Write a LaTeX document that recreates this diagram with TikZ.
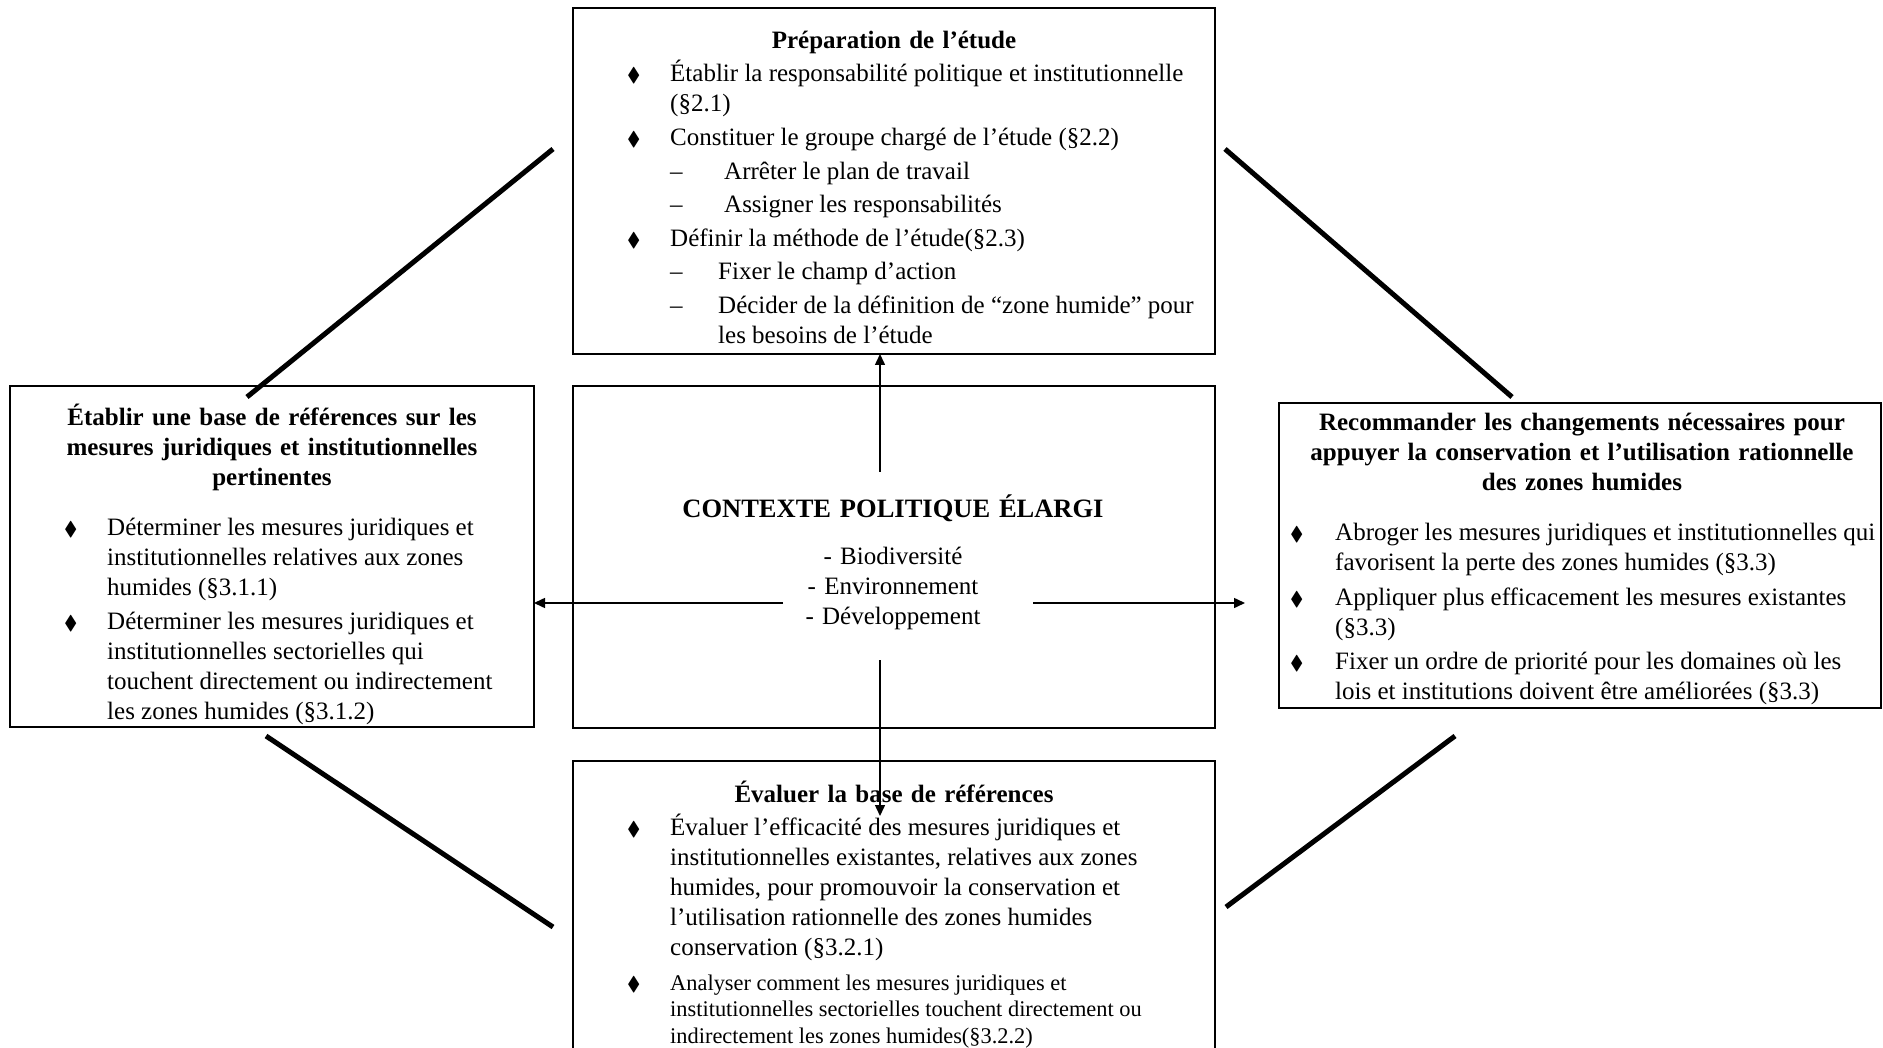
\documentclass[tikz,border=0pt]{standalone}
\usepackage{amssymb}
\usepackage{fontspec}
\setmainfont{Liberation Serif}
\usetikzlibrary{arrows.meta}

\newcommand{\puce}{{\fontsize{20}{20}\selectfont$\blacklozenge$}}
\newcommand{\tiret}[1]{\makebox[#1][l]{–}}
\newcommand{\corps}{\fontsize{25}{30}\selectfont}
\newcommand{\petit}{\fontsize{22.4}{26.5}\selectfont}

\tikzset{
	cadre/.style={draw, line width=2pt, inner sep=0pt, outer sep=0pt, anchor=north west},
	titre/.style={anchor=base, inner sep=0pt, align=center, font=\corps\bfseries},
	liste/.style={anchor=base west, inner sep=0pt, font=\corps},
	fleche/.style={line width=1.5pt, -{Triangle[length=11pt,width=10pt]}},
	liaison/.style={line width=5pt}
}

\begin{document}
\begin{tikzpicture}[x=1pt, y=-1pt]
			\clip (0,0) rectangle (1883,1048);

			\node[cadre, minimum width=642, minimum height=346] (prep) at (573,8) {};
			\node[cadre, minimum width=642, minimum height=342] (ctx) at (573,386) {};
			\node[cadre, minimum width=524, minimum height=341] (base) at (10,386) {};
			\node[cadre, minimum width=602, minimum height=305] (reco) at (1279,403) {};
			\node[cadre, minimum width=642, minimum height=330] (eval) at (573,761) {};

			\node[titre, text width=600pt] (preptitre) at (894,49) {Préparation de l’étude};
			\node[liste] (prepliste) at (627,82) {
				\begin{tabular}[t]{@{}p{43pt}@{}l@{}}
				\puce & Établir la responsabilité politique et institutionnelle\\
				      & (§2.1)\\[3.6pt]
				\puce & Constituer le groupe chargé de l’étude (§2.2)\\[3.6pt]
				      & \tiret{54pt}Arrêter le plan de travail\\[3.6pt]
				      & \tiret{54pt}Assigner les responsabilités\\[3.6pt]
				\puce & Définir la méthode de l’étude(§2.3)\\[3.6pt]
				      & \tiret{48pt}Fixer le champ d’action\\[3.6pt]
				      & \tiret{48pt}Décider de la définition de “zone humide” pour\\
				      & \hspace{48pt}les besoins de l’étude
				\end{tabular}
			};

			\node[titre, font=\fontsize{26.5}{30}\selectfont\bfseries, text width=600pt] (ctxtitre) at (893,517) {CONTEXTE POLITIQUE ÉLARGI};
			\node[titre, font=\corps, text width=400pt] (ctxliste) at (893,564) {- Biodiversité\\ - Environnement\\ - Développement};

			\node[titre, text width=500pt] (basetitre) at (272,426) {Établir une base de références sur les\\ mesures juridiques et institutionnelles\\ pertinentes};
			\node[liste] (baseliste) at (64,535) {
				\begin{tabular}[t]{@{}p{43pt}@{}l@{}}
				\puce & Déterminer les mesures juridiques et\\
				      & institutionnelles relatives aux zones\\
				      & humides (§3.1.1)\\[4pt]
				\puce & Déterminer les mesures juridiques et\\
				      & institutionnelles sectorielles qui\\
				      & touchent directement ou indirectement\\
				      & les zones humides (§3.1.2)
				\end{tabular}
			};

			\node[titre, text width=590pt] (recotitre) at (1582,431) {Recommander les changements nécessaires pour\\ appuyer la conservation et l’utilisation rationnelle\\ des zones humides};
			\node[liste] (recoliste) at (1290,540) {
				\begin{tabular}[t]{@{}p{45pt}@{}l@{}}
				\puce & Abroger les mesures juridiques et institutionnelles qui\\
				      & favorisent la perte des zones humides (§3.3)\\[5pt]
				\puce & Appliquer plus efficacement les mesures existantes\\
				      & (§3.3)\\[4pt]
				\puce & Fixer un ordre de priorité pour les domaines où les\\
				      & lois et institutions doivent être améliorées (§3.3)
				\end{tabular}
			};

			\node[titre, text width=600pt] (evaltitre) at (894,802) {Évaluer la base de références};
			\node[liste] (evalliste) at (627,835) {
				\begin{tabular}[t]{@{}p{43pt}@{}l@{}}
				\puce & Évaluer l’efficacité des mesures juridiques et\\
				      & institutionnelles existantes, relatives aux zones\\
				      & humides, pour promouvoir la conservation et\\
				      & l’utilisation rationnelle des zones humides\\
				      & conservation (§3.2.1)
				\end{tabular}
			};
			\node[liste, font=\petit] (evalanalyse) at (627,990) {
				\begin{tabular}[t]{@{}p{43pt}@{}l@{}}
				\puce & Analyser comment les mesures juridiques et\\
				      & institutionnelles sectorielles touchent directement ou\\
				      & indirectement les zones humides(§3.2.2)
				\end{tabular}
			};

			\coordinate (hautdep) at (880,472);
			\coordinate (basdep) at (880,660);
			\coordinate (basfin) at (880,816);
			\coordinate (gauchedep) at (783,603);
			\coordinate (droitedep) at (1033,603);
			\coordinate (droitefin) at (1245,603);
			\draw[fleche] (hautdep) -- (hautdep |- prep.south);
			\draw[fleche] (basdep) -- (basfin);
			\draw[fleche] (gauchedep) -- (gauchedep -| base.east);
			\draw[fleche] (droitedep) -- (droitefin);

			\coordinate (hg1) at (553,149);
			\coordinate (hg2) at (247,397);
			\coordinate (hd1) at (1225,149);
			\coordinate (hd2) at (1512,397);
			\coordinate (bg1) at (266,736);
			\coordinate (bg2) at (553,927);
			\coordinate (bd1) at (1455,736);
			\coordinate (bd2) at (1226,907);
			\draw[liaison] (hg1) -- (hg2);
			\draw[liaison] (hd1) -- (hd2);
			\draw[liaison] (bg1) -- (bg2);
			\draw[liaison] (bd1) -- (bd2);
\end{tikzpicture}
\end{document}
